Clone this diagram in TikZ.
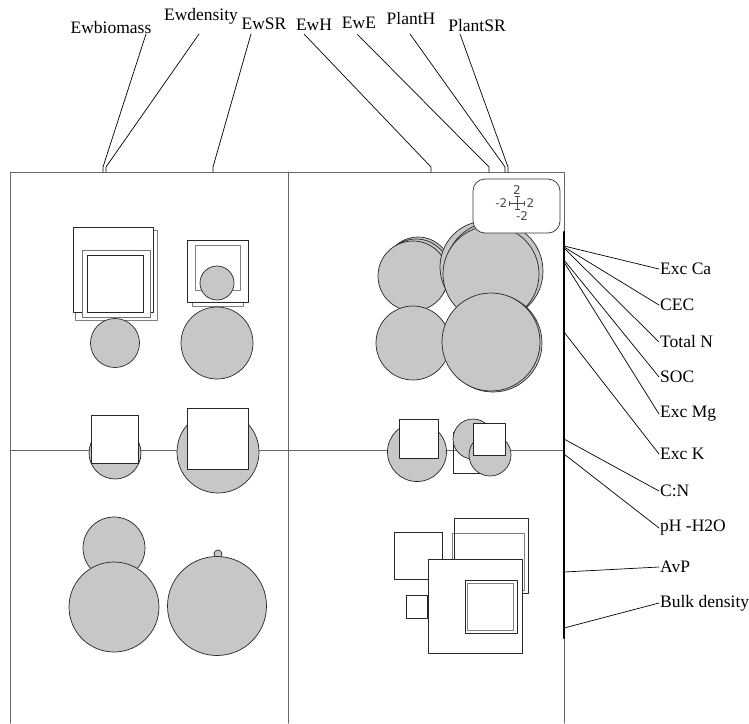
\documentclass[tikz,border=0pt]{standalone}
\usepackage{fontspec}
\setmainfont{Liberation Serif}
\setsansfont{DejaVu Sans}
\usetikzlibrary{arrows.meta}
\begin{document}
\begin{tikzpicture}[x=1pt, y=-1pt, line join=round, line cap=round,
	nhan/.style={font=\fontsize{17.5}{18}\selectfont, inner sep=1pt},
	sochu/.style={font=\sffamily\fontsize{12}{12}\selectfont, text=black!70, inner sep=0.5pt},
	tron/.style={draw=black!85, fill=black!22, line width=0.7pt},
	vuong/.style={draw=black!85, fill=white, line width=0.7pt},
	vien/.style={draw=black!50, line width=0.7pt},
	khung/.style={draw=black!60, line width=1pt},
	noi/.style={draw=black, line width=0.7pt}]
	
	\useasboundingbox (0,0) rectangle (749,723);
	
	% --- Khung chia 4 ô ---
	\coordinate (TL) at (10,172);
	\coordinate (TM) at (288,172);
	\coordinate (TR) at (564,172);
	\coordinate (ML) at (10,450);
	\coordinate (MR) at (564,450);
	\coordinate (BL) at (10,723);
	\coordinate (BM) at (288,723);
	\coordinate (BR) at (564,723);
	\coordinate (barT) at (564,232);
	\coordinate (barB) at (564,638);
	
	\draw[khung] (BL) -- (TL) -- (TR) -- (BR) (TM) -- (BM) (ML) -- (MR);
	\draw[line width=2.4pt] (barT) -- (barB);
	
	% --- Ô trên trái ---
	\draw[vien] (75,230) rectangle (157,320);
	\draw[vuong] (73,227) rectangle (153,312);
	\draw[vuong, draw=black!55] (82,250) rectangle (150,317);
	\draw[black!85, line width=0.7pt] (87,255) rectangle (143,312);
	\draw[tron] (115,343) circle (24.5);
	
	\draw[vien] (192,252) rectangle (243,306);
	\draw[vuong] (187,240) rectangle (248,302);
	\draw[vien] (195,245) rectangle (240,290);
	\draw[tron] (217,283) circle (17);
	\draw[tron] (217,343) circle (36);
	
	% --- Ô trên phải ---
	\draw[tron] (418,270) circle (33);
	\draw[tron] (416,273) circle (34);
	\draw[tron] (413,276) circle (35);
	\draw[tron] (486,267) circle (46);
	\draw[tron] (494,271) circle (49);
	\draw[tron] (491,274) circle (48);
	\draw[tron] (413,343) circle (37);
	\draw[tron] (493,343) circle (49);
	\draw[tron] (491,342) circle (49);
	
	% --- Hàng giữa ---
	\draw[tron] (115,453) circle (26);
	\draw[vuong] (91,415) rectangle (138,463);
	\draw[tron] (218,452) circle (41);
	\draw[vuong] (187,408) rectangle (248,469);
	\draw[tron] (417,452) circle (29.5);
	\draw[vuong] (399,419) rectangle (438,458);
	\draw[black!85, line width=0.7pt] (453,432) rectangle (483,473);
	\draw[tron] (473,439) circle (20);
	\draw[tron] (490,455) circle (21);
	\draw[vuong] (473,423) rectangle (505,455);
	
	% --- Ô dưới trái ---
	\draw[tron] (114,548) circle (31);
	\draw[tron] (114,607) circle (45);
	\draw[tron] (218,554) circle (4);
	\draw[tron] (217,606) circle (49.5);
	
	% --- Ô dưới phải ---
	\draw[black!85, line width=0.7pt] (394,532) rectangle (442,579);
	\draw[vien] (452,533) rectangle (524,590);
	\draw[black!85, line width=0.7pt] (454,518) rectangle (528,593);
	\draw[black!85, line width=0.7pt] (406,595) rectangle (427,618);
	\draw[vuong] (428,559) rectangle (522,653);
	\draw[black!85, line width=0.7pt] (465,580) rectangle (517,633);
	\draw[vien] (467,583) rectangle (513,630);
	
	% --- Chú thích thang đo ---
	\node[draw=black!80, fill=white, rounded corners=12pt, minimum width=87pt, minimum height=54pt, line width=0.7pt] (thangdo) at (516.5,206) {};
	\node[sochu] (sTren) at (517,190) {2};
	\node[sochu, anchor=east] (sTrai) at (508,203) {-2};
	\node[sochu, anchor=west] (sPhai) at (526,203) {2};
	\node[sochu] (sDuoi) at (522,216) {-2};
	\draw[black!70, line width=0.6pt, {Bar[width=5pt]}-{Bar[width=5pt]}] (509,203) -- (525,203);
	\draw[black!70, line width=0.6pt, {Bar[width=5pt]}-{Bar[width=5pt]}] (517,196) -- (517,210);
	
	% --- Nhãn phía trên ---
	\node[nhan, anchor=base] (ewbio) at (111,33) {Ewbiomass};
	\node[nhan, anchor=base] (ewdens) at (201,20) {Ewdensity};
	\node[nhan, anchor=base] (ewsr) at (264,29) {EwSR};
	\node[nhan, anchor=base] (ewh) at (314,30) {EwH};
	\node[nhan, anchor=base] (ewe) at (359,28) {EwE};
	\node[nhan, anchor=base] (planth) at (411,24) {PlantH};
	\node[nhan, anchor=base] (plantsr) at (477,31) {PlantSR};
	
	\coordinate (ewbioT) at (146,34);   \coordinate (ewbioB) at (103,167);
	\coordinate (ewdensT) at (199,34);  \coordinate (ewdensB) at (106,167);
	\coordinate (ewsrT) at (251,34);    \coordinate (ewsrB) at (213,167);
	\coordinate (ewhT) at (304,34);     \coordinate (ewhB) at (431,167);
	\coordinate (eweT) at (357,34);     \coordinate (eweB) at (489,167);
	\coordinate (planthT) at (410,34);  \coordinate (planthB) at (505,167);
	\coordinate (plantsrT) at (460,34); \coordinate (plantsrB) at (508,167);
	
	\draw[noi] (ewbioT) -- (ewbioB) -- (ewbioB |- TL);
	\draw[noi] (ewdensT) -- (ewdensB) -- (ewdensB |- TL);
	\draw[noi] (ewsrT) -- (ewsrB) -- (ewsrB |- TL);
	\draw[noi] (ewhT) -- (ewhB) -- (ewhB |- TL);
	\draw[noi] (eweT) -- (eweB) -- (eweB |- TL);
	\draw[noi] (planthT) -- (planthB) -- (planthB |- TL);
	\draw[noi] (plantsrT) -- (plantsrB) -- (plantsrB |- TL);
	
	% --- Nhãn bên phải ---
	\node[nhan, anchor=west] (excca) at (659,269) {Exc Ca};
	\node[nhan, anchor=west] (cec) at (659,305) {CEC};
	\node[nhan, anchor=west] (totaln) at (659,342) {Total N};
	\node[nhan, anchor=west] (soc) at (659,377) {SOC};
	\node[nhan, anchor=west] (excmg) at (659,414) {Exc Mg};
	\node[nhan, anchor=west] (exck) at (659,454) {Exc K};
	\node[nhan, anchor=west] (cn) at (659,491) {C:N};
	\node[nhan, anchor=west] (ph) at (659,528) {pH -H2O};
	\node[nhan, anchor=west] (avp) at (659,567) {AvP};
	\node[nhan, anchor=west] (bulk) at (659,603) {Bulk density};
	
	\coordinate (rExcCa) at (564,246);
	\coordinate (rCEC) at (564,247);
	\coordinate (rTotalN) at (564,248);
	\coordinate (rSOC) at (564,260);
	\coordinate (rExcMg) at (564,262);
	\coordinate (rExcK) at (564,332);
	\coordinate (rCN) at (564,439);
	\coordinate (rPH) at (564,454);
	\coordinate (rAvP) at (564,572);
	\coordinate (rBulk) at (564,628);
	
	\draw[noi] (rExcCa) -- (excca.west);
	\draw[noi] (rCEC) -- (cec.west);
	\draw[noi] (rTotalN) -- (totaln.west);
	\draw[noi] (rSOC) -- (soc.west);
	\draw[noi] (rExcMg) -- (excmg.west);
	\draw[noi] (rExcK) -- (exck.west);
	\draw[noi] (rCN) -- (cn.west);
	\draw[noi] (rPH) -- (ph.west);
	\draw[noi] (rAvP) -- (avp.west);
	\draw[noi] (rBulk) -- (bulk.west);
	
\end{tikzpicture}
\end{document}
